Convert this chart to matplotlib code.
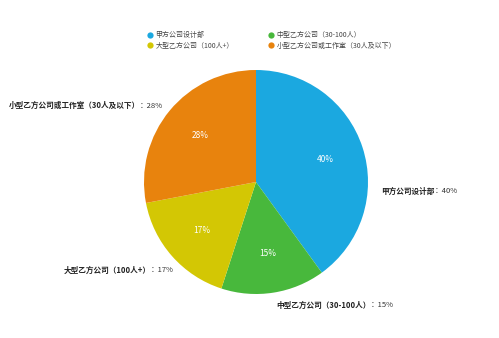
import matplotlib
matplotlib.use("Agg")
import matplotlib.pyplot as plt
from matplotlib.lines import Line2D

plt.rcParams['font.family'] = ['Noto Sans CJK SC', 'DejaVu Sans']

names = ['甲方公司设计部', '中型乙方公司（30-100人）', '大型乙方公司（100人+）', '小型乙方公司或工作室（30人及以下）']
shares = [40, 15, 17, 28]
colors = ['#1ba8e0', '#48b83c', '#d3c704', '#e8830d']

# outer label anchor (data coords of the pie axes) and alignment
label_pos = [(1.115, -0.08, 'left'), (0.18, -1.10, 'left'),
             (-0.74, -0.785, 'right'), (-0.83, 0.68, 'right')]

W, H = 499, 338
fig = plt.figure(figsize=(W / 100, H / 100), dpi=100)
cx, cy, r = 256, 182, 112
ax = fig.add_axes([(cx - r) / W, (H - cy - r) / H, 2 * r / W, 2 * r / H])

wedges, texts, autotexts = ax.pie(shares, colors=colors, startangle=90, counterclock=False,
                                  radius=1, autopct='%d%%', pctdistance=0.65,
                                  wedgeprops=dict(linewidth=0),
                                  textprops=dict(color='white', fontsize=6))
ax.set_xlim(-1, 1)
ax.set_ylim(-1, 1)
ax.axis('off')

fs = 5.5
fig.canvas.draw()
renderer = fig.canvas.get_renderer()
for name, v, (x, y, ha) in zip(names, shares, label_pos):
    pct = f'：{v}%'
    if ha == 'left':
        t = ax.text(x, y, name, fontsize=fs, fontweight='bold', color='#222222', ha='left', va='center')
        bb = t.get_window_extent(renderer)
        x2 = ax.transData.inverted().transform((bb.x1, 0))[0]
        ax.text(x2, y, pct, fontsize=fs, color='#333333', ha='left', va='center')
    else:
        t = ax.text(x, y, pct, fontsize=fs, color='#333333', ha='right', va='center')
        bb = t.get_window_extent(renderer)
        x2 = ax.transData.inverted().transform((bb.x0, 0))[0]
        ax.text(x2, y, name, fontsize=fs, fontweight='bold', color='#222222', ha='right', va='center')

order = [0, 2, 1, 3]
handles = [Line2D([], [], marker='o', linestyle='', markersize=4.5,
                  markerfacecolor=colors[i], markeredgewidth=0) for i in order]
fig.legend(handles, [names[i] for i in order], ncol=2, frameon=False,
           loc='upper left', bbox_to_anchor=(140 / W, 1 - 25 / H),
           fontsize=5, labelcolor='#444444', handletextpad=0.3,
           columnspacing=4.9, labelspacing=0.35, handlelength=1.0)

fig.savefig('out.png', dpi=100)
